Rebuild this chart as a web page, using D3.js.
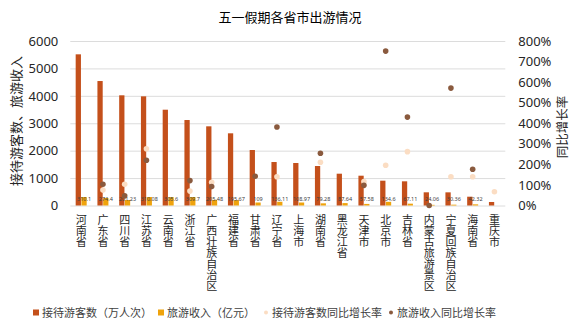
<!DOCTYPE html>
<html><head><meta charset="utf-8">
<script src="https://cdn.jsdelivr.net/npm/d3@7/dist/d3.min.js"></script>
<style>body{margin:0;background:#fff}svg{display:block;font-family:"Noto Sans CJK SC","Noto Sans",sans-serif}
.vt{writing-mode:vertical-rl;text-orientation:upright}</style>
</head><body><svg id="c" width="580" height="326"></svg>
<script>
const categories = ["河南省","广东省","四川省","江苏省","云南省","浙江省","广西壮族自治区","福建省","甘肃省","辽宁省","上海市","湖南省","黑龙江省","天津市","北京市","吉林省","内蒙古旅游景区","宁夏回族自治区","海南省","重庆市"];
const visitors = [5514,4540,4019,3982,3494,3118,2888,2633,2024,1586,1550,1440,1160,1087,905,882,481,480,321,128];
const income = [310.1,274.4,201.23,310.08,305.6,309.7,205.48,195.67,109,136.11,108.97,79.28,87.64,57.58,134.6,67.11,24.06,30.36,42.32,null];
const visitorsGrowth = [null,75,103,276,null,70,113,null,null,140,null,210,null,116,196,262,null,140,140,67];
const incomeGrowth = [null,103,47,220,null,121,92,null,142,382,null,254,null,98,751,430,0,571,176,null];
const leftTicks = [0,1000,2000,3000,4000,5000,6000];
const rightTicks = [0,100,200,300,400,500,600,700,800];
const title = "五一假期各省市出游情况";
const leftTitle = "接待游客数、旅游收入";
const rightTitle = "同比增长率";
const seriesNames = ["接待游客数（万人次）","旅游收入（亿元）","接待游客数同比增长率","旅游收入同比增长率"];

const C = {orange:"#C4501B", yellow:"#EFA30C", light:"#FBDDC3", brown:"#8A5A3E", grid:"#DCDCDC", text:"#262626"};
const svg = d3.select("#c");
const L=70.3, R=505.3, T=41, B=205.5;
const x = d3.scaleBand().domain(categories).range([L,R]).padding(0);
const xi = d3.scaleBand().domain(["v","i"]).range([-5.5,5.5]).paddingInner(0.08);
const y = d3.scaleLinear().domain([0,6000]).range([B,T]);
const y2 = d3.scaleLinear().domain([0,800]).range([B,T]);
const cx = c => x(c)+x.bandwidth()/2;

// gridlines
svg.append("g").attr("transform",`translate(${L},0)`)
  .call(d3.axisLeft(y).tickValues(leftTicks).tickSize(-(R-L)).tickFormat(""))
  .call(g=>g.select(".domain").remove())
  .call(g=>g.selectAll("line").attr("stroke",C.grid).attr("stroke-width",1));

// left axis labels
svg.append("g").attr("transform",`translate(${L},0)`)
  .call(d3.axisLeft(y).tickValues(leftTicks).tickSize(0).tickPadding(12).tickFormat(d=>String(d)))
  .call(g=>g.select(".domain").remove())
  .call(g=>g.selectAll("text").attr("font-size",13).attr("fill",C.text).attr("font-family","Noto Sans, sans-serif"));
// right axis labels
svg.append("g").attr("transform",`translate(${R},0)`)
  .call(d3.axisRight(y2).tickValues(rightTicks).tickSize(0).tickPadding(13).tickFormat(d=>d+"%"))
  .call(g=>g.select(".domain").remove())
  .call(g=>g.selectAll("text").attr("font-size",13).attr("fill",C.text).attr("font-family","Noto Sans, sans-serif"));

// bars
svg.append("g").selectAll("rect").data(categories).join("rect")
  .attr("x",c=>cx(c)+xi("v")).attr("width",xi.bandwidth())
  .attr("y",(c,i)=>y(visitors[i])).attr("height",(c,i)=>B-y(visitors[i])).attr("fill",C.orange);
const incCats = categories.filter((c,i)=>income[i]!=null);
svg.append("g").selectAll("rect").data(incCats).join("rect")
  .attr("x",c=>cx(c)+xi("i")).attr("width",xi.bandwidth())
  .attr("y",c=>y(income[categories.indexOf(c)])).attr("height",c=>B-y(income[categories.indexOf(c)])).attr("fill",C.yellow);
// income labels
svg.append("g").selectAll("text").data(incCats).join("text")
  .attr("x",c=>cx(c)+xi("i")+xi.bandwidth()/2).attr("y",B-4.5)
  .attr("text-anchor","middle").attr("font-size",5.5).attr("fill","#404040")
  .attr("font-family","Noto Sans, sans-serif")
  .text(c=>income[categories.indexOf(c)]);

// dots
svg.append("g").selectAll("circle").data(categories.filter((c,i)=>visitorsGrowth[i]!=null)).join("circle")
  .attr("cx",cx).attr("cy",c=>y2(visitorsGrowth[categories.indexOf(c)])).attr("r",2.8).attr("fill",C.light);
svg.append("g").selectAll("circle").data(categories.filter((c,i)=>incomeGrowth[i]!=null)).join("circle")
  .attr("cx",cx).attr("cy",c=>y2(incomeGrowth[categories.indexOf(c)])).attr("r",2.8).attr("fill",C.brown);

// x labels (vertical, upright characters)
svg.append("g").selectAll("text").data(categories).join("text")
  .attr("class","vt").attr("x",cx).attr("y",214)
  .attr("font-size",11).attr("fill",C.text)
  .text(d=>d);

// titles
svg.append("text").attr("x",290).attr("y",22).attr("text-anchor","middle").attr("font-size",13).attr("fill","#000").text(title);
svg.append("text").attr("transform",`translate(21,121) rotate(-90)`).attr("text-anchor","middle").attr("font-size",13).attr("fill",C.text).text(leftTitle);
svg.append("text").attr("transform",`translate(567,127) rotate(-90)`).attr("text-anchor","middle").attr("font-size",12.5).attr("fill",C.text).text(rightTitle);

// legend
const ly=313;
const leg = svg.append("g").attr("font-size",11).attr("fill","#404040");
const items=[{x:33,type:"rect",c:C.orange},{x:158,type:"rect",c:C.yellow},{x:263,type:"dot",c:C.light},{x:388,type:"dot",c:C.brown}];
items.forEach((it,i)=>{
  if(it.type==="rect") leg.append("rect").attr("x",it.x).attr("y",ly-3.5).attr("width",6).attr("height",6).attr("fill",it.c);
  else leg.append("circle").attr("cx",it.x+3).attr("cy",ly-0.5).attr("r",2).attr("fill",it.c);
  leg.append("text").attr("x",it.x+9).attr("y",ly+3.5).text(seriesNames[i]);
});
</script></body></html>
